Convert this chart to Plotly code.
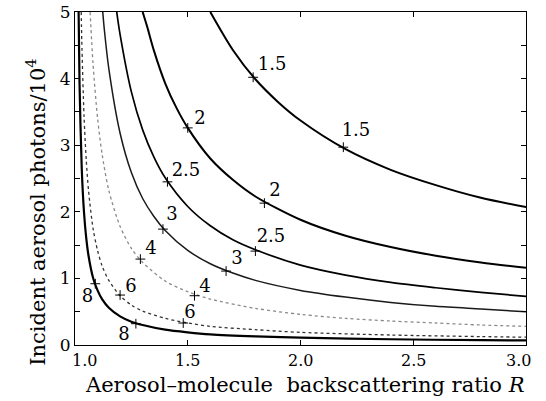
import plotly.graph_objects as go

# ---- data ----
levels = ["1.5", "2", "2.5", "3", "4", "6", "8"]

R_15 = [1.6, 1.7, 1.8, 1.9, 2.0, 2.2, 2.4, 2.6, 2.8, 3.0]
N_15 = [5.0, 4.43, 3.99, 3.65, 3.37, 2.94, 2.63, 2.40, 2.21, 2.07]

R_2 = [1.30, 1.32, 1.35, 1.4, 1.45, 1.5, 1.6, 1.7, 1.8, 2.0, 2.2, 2.4, 2.6, 2.8, 3.0]
N_2 = [5.0, 4.78, 4.42, 3.93, 3.56, 3.26, 2.80, 2.48, 2.23, 1.88, 1.64, 1.47, 1.34, 1.24, 1.16]

R_25 = [1.185, 1.2, 1.25, 1.3, 1.35, 1.4, 1.5, 1.6, 1.7, 1.8, 2.0, 2.2, 2.4, 2.6, 2.8, 3.0]
N_25 = [5.0, 4.66, 3.80, 3.23, 2.82, 2.51, 2.08, 1.79, 1.58, 1.43, 1.20, 1.05, 0.94, 0.86, 0.79, 0.73]

R_3 = [1.123, 1.13, 1.15, 1.2, 1.25, 1.3, 1.35, 1.4, 1.5, 1.6, 1.7, 1.8, 2.0, 2.2, 2.4, 2.6, 2.8, 3.0]
N_3 = [5.0, 4.74, 4.15, 3.18, 2.59, 2.20, 1.93, 1.72, 1.42, 1.22, 1.08, 0.97, 0.82, 0.72, 0.64, 0.58, 0.54, 0.50]

R_4 = [1.067, 1.08, 1.1, 1.12, 1.15, 1.2, 1.25, 1.3, 1.4, 1.5, 1.6, 1.8, 2.0, 2.2, 2.4, 2.6, 2.8, 3.0]
N_4 = [5.0, 4.22, 3.41, 2.87, 2.32, 1.78, 1.45, 1.24, 0.96, 0.80, 0.69, 0.55, 0.46, 0.40, 0.36, 0.33, 0.30, 0.28]

R_6 = [1.0275, 1.03, 1.04, 1.05, 1.06, 1.08, 1.1, 1.12, 1.15, 1.2, 1.25, 1.3, 1.4, 1.5, 1.6, 1.8, 2.0, 2.4, 2.8, 3.0]
N_6 = [5.0, 4.57, 3.44, 2.77, 2.32, 1.75, 1.42, 1.19, 0.97, 0.74, 0.60, 0.51, 0.40, 0.33, 0.28, 0.23, 0.19, 0.15, 0.126, 0.117]

R_8 = [1.016, 1.02, 1.03, 1.04, 1.05, 1.06, 1.08, 1.1, 1.12, 1.15, 1.2, 1.25, 1.3, 1.4, 1.5, 1.6, 1.8, 2.0, 2.4, 2.8, 3.0]
N_8 = [5.0, 3.94, 2.64, 1.99, 1.60, 1.34, 1.01, 0.82, 0.69, 0.56, 0.43, 0.35, 0.30, 0.23, 0.19, 0.16, 0.13, 0.11, 0.086, 0.073, 0.068]

# label markers (+) on the curves
mark_R = [1.79, 2.19, 1.50, 1.84, 1.41, 1.80, 1.39, 1.67, 1.29, 1.53, 1.20, 1.48, 1.09, 1.27]
mark_N = [4.02, 2.97, 3.26, 2.13, 2.45, 1.41, 1.74, 1.11, 1.29, 0.74, 0.75, 0.33, 0.92, 0.32]
# label text positions
lab_text = ["1.5", "1.5", "2", "2", "2.5", "2.5", "3", "3", "4", "4", "6", "6", "8", "8"]
lab_R = [1.874, 2.246, 1.554, 1.887, 1.492, 1.869, 1.430, 1.718, 1.337, 1.576, 1.248, 1.510, 1.055, 1.217]
lab_N = [4.20, 3.20, 3.39, 2.31, 2.61, 1.61, 1.94, 1.28, 1.43, 0.86, 0.86, 0.48, 0.72, 0.15]

x_ticks = [1.0, 1.5, 2.0, 2.5, 3.0]
x_tick_text = ["1.0", "1.5", "2.0", "2.5", "3.0"]
y_ticks = [0, 1, 2, 3, 4, 5]

curves = [
    (R_15, N_15, dict(color="black", width=2.0, dash="solid")),
    (R_2, N_2, dict(color="black", width=2.0, dash="solid")),
    (R_25, N_25, dict(color="black", width=1.7, dash="solid")),
    (R_3, N_3, dict(color="#1a1a1a", width=1.5, dash="solid")),
    (R_4, N_4, dict(color="#8a8a8a", width=1.3, dash="dot")),
    (R_6, N_6, dict(color="#333333", width=1.3, dash="dot")),
    (R_8, N_8, dict(color="black", width=2.2, dash="solid")),
]

FONT = "DejaVu Serif"

fig = go.Figure()
for (rx, ny, ln), lev in zip(curves, levels):
    fig.add_trace(go.Scatter(x=rx, y=ny, mode="lines", line=dict(shape="spline", smoothing=0.8, **ln),
                             name=lev, showlegend=False, hoverinfo="skip"))

fig.add_trace(go.Scatter(x=mark_R, y=mark_N, mode="markers",
                         marker=dict(symbol="cross-thin", size=7, line=dict(color="black", width=1)),
                         showlegend=False, hoverinfo="skip"))
fig.add_trace(go.Scatter(x=lab_R, y=lab_N, mode="text", text=lab_text,
                         textfont=dict(family=FONT, size=18, color="black"),
                         showlegend=False, hoverinfo="skip"))

# x tick labels as annotations so the end labels can sit inside the frame width, as in the reference
end_shift = {0: 9, len(x_ticks) - 1: -8}
tick_annots = [
    dict(text=t, x=v, xref="x", y=-0.048, yref="paper", xanchor="center", yanchor="middle",
         xshift=end_shift.get(i, 0), showarrow=False, borderpad=0,
         font=dict(family=FONT, size=16, color="black"))
    for i, (v, t) in enumerate(zip(x_ticks, x_tick_text))
]

fig.update_layout(
    width=546, height=401,
    margin=dict(l=75, r=20, t=12, b=56),
    paper_bgcolor="white", plot_bgcolor="white",
    font=dict(family=FONT, size=16, color="black"),
    annotations=tick_annots + [
        dict(text="Aerosol\u2013molecule  backscattering ratio <i>R</i>", xref="paper", yref="paper",
             x=0.51, y=-0.120, xanchor="center", yanchor="middle", showarrow=False, borderpad=0,
             font=dict(family=FONT, size=21, color="black")),
        dict(text="Incident aerosol photons/10<sup>4</sup>", xref="paper", yref="paper",
             x=-0.0865, y=0.40, xanchor="center", yanchor="middle", textangle=-90, showarrow=False,
             font=dict(family=FONT, size=21, color="black")),
    ],
)
fig.update_xaxes(range=[1.0, 3.0], tickvals=x_ticks, showticklabels=False, automargin=False,
                 ticks="inside", ticklen=5, tickcolor="black", mirror="allticks",
                 showline=True, linecolor="black", linewidth=1, showgrid=False, zeroline=False)
fig.update_yaxes(range=[0, 5], tickvals=y_ticks, automargin=False,
                 ticks="inside", ticklen=5, tickcolor="black", mirror="allticks",
                 minor=dict(dtick=0.5, ticks="inside", ticklen=5, tickcolor="black"),
                 showline=True, linecolor="black", linewidth=1, showgrid=False, zeroline=False,
                 ticklabeloverflow="allow",
                 tickfont=dict(family=FONT, size=17))

# remove the default 8px page margin so the figure fills the window exactly
fig.write_html("out.html", config={"displayModeBar": False},
               post_script="document.body.style.margin='0';")
